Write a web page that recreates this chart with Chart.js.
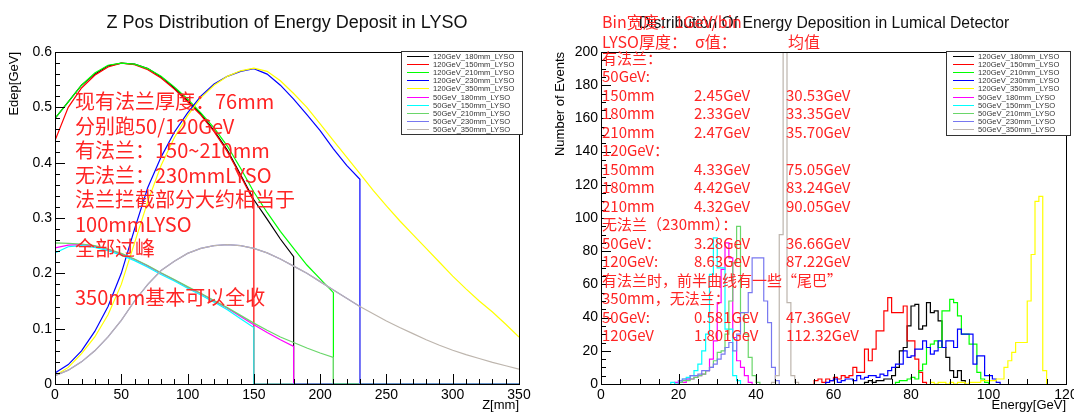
<!DOCTYPE html>
<html><head><meta charset="utf-8">
<script src="https://cdn.jsdelivr.net/npm/chart.js@4.4.1/dist/chart.umd.min.js"></script>
<style>
html,body{margin:0;padding:0;background:#fff;width:1074px;height:412px;overflow:hidden;position:relative;font-family:"Liberation Sans",Arial,sans-serif}
canvas{position:absolute;top:0}
#c1{left:0}
#c2{left:540px}
.title{position:absolute;white-space:nowrap;color:#111;transform:translateX(-50%);line-height:1}
.note{position:absolute;color:#ff2424;font-family:"Noto Sans CJK SC","Noto Sans",sans-serif;white-space:nowrap}
.note div{height:var(--lh);line-height:var(--lh)}
.note span{display:inline-block}
</style></head><body>
<canvas id="c1" width="540" height="412"></canvas>
<canvas id="c2" width="534" height="412"></canvas>
<div class="title" style="left:287px;top:13px;font-size:18px">Z Pos Distribution of Energy Deposit in LYSO</div>
<div class="title" style="left:824px;top:15px;font-size:15.7px">Distribution Of Energy Deposition in Lumical Detector</div>

<div class="note" style="left:75px;top:89px;font-size:20px;--lh:24.5px">
<div>现有法兰厚度：76mm</div>
<div>分别跑50/120GeV</div>
<div>有法兰：150~210mm</div>
<div>无法兰：230mmLYSO</div>
<div>法兰拦截部分大约相当于</div>
<div>100mmLYSO</div>
<div>全部过峰</div>
<div></div>
<div>350mm基本可以全收</div>
</div>

<div class="note" style="left:602px;top:11px;font-size:16px;--lh:20px">
<div>Bin宽度：1GeV/bin</div>
<div><span style="width:93px">LYSO厚度：</span><span style="width:93px">σ值：</span><span>均值</span></div>
</div>
<div class="note" style="left:602px;top:49px;font-size:15px;--lh:18.47px">
<div>有法兰：</div>
<div>50GeV:</div>
<div><span style="width:92px">150mm</span><span style="width:92px">2.45GeV</span><span>30.53GeV</span></div>
<div><span style="width:92px">180mm</span><span style="width:92px">2.33GeV</span><span>33.35GeV</span></div>
<div><span style="width:92px">210mm</span><span style="width:92px">2.47GeV</span><span>35.70GeV</span></div>
<div>120GeV：</div>
<div><span style="width:92px">150mm</span><span style="width:92px">4.33GeV</span><span>75.05GeV</span></div>
<div><span style="width:92px">180mm</span><span style="width:92px">4.42GeV</span><span>83.24GeV</span></div>
<div><span style="width:92px">210mm</span><span style="width:92px">4.32GeV</span><span>90.05GeV</span></div>
<div>无法兰（230mm）：</div>
<div><span style="width:92px">50GeV：</span><span style="width:92px">3.28GeV</span><span>36.66GeV</span></div>
<div><span style="width:92px">120GeV:</span><span style="width:92px">8.63GeV</span><span>87.22GeV</span></div>
<div>有法兰时，前半曲线有一些“尾巴”</div>
<div>350mm，无法兰：</div>
<div><span style="width:92px">50GeV:</span><span style="width:92px">0.581GeV</span><span>47.36GeV</span></div>
<div><span style="width:92px">120GeV</span><span style="width:92px">1.801GeV</span><span>112.32GeV</span></div>
</div>

<script>
// ---------- series names / colours ----------
const seriesNames = ["120GeV_180mm_LYSO","120GeV_150mm_LYSO","120GeV_210mm_LYSO","120GeV_230mm_LYSO","120GeV_350mm_LYSO",
  "50GeV_180mm_LYSO","50GeV_150mm_LYSO","50GeV_210mm_LYSO","50GeV_230mm_LYSO","50GeV_350mm_LYSO"];
const seriesColors = ["#000000","#ff0000","#00ff00","#0000ff","#ffff00","#ff00ff","#00ffff","#6ad66a","#7878f0","#bdb5ad"];

// ---------- left plot: Edep [GeV] vs Z [mm] ----------
const zPos = [0,10,20,30,40,50,60,70,80,90,100,110,120,130,140,150,160,170,180,190,200,210,220,230,240,250,260,270,280,290,300,310,320,330,340,350];
const edep120_180 = [0.48,0.51,0.54,0.56,0.575,0.58,0.578,0.57,0.555,0.535,0.512,0.488,0.458,0.423,0.378,0.333,0.298,0.262,0.23];
const edep120_150 = [0.44,0.50,0.535,0.558,0.573,0.58,0.577,0.568,0.553,0.533,0.51,0.486,0.456,0.42,0.376,0.33];
const edep120_210 = [0.48,0.51,0.54,0.562,0.576,0.58,0.578,0.57,0.556,0.537,0.515,0.49,0.463,0.43,0.39,0.347,0.31,0.276,0.245,0.215,0.19,0.165];
const edep120_230 = [0.02,0.035,0.06,0.095,0.14,0.2,0.28,0.355,0.41,0.455,0.49,0.52,0.542,0.556,0.565,0.57,0.56,0.54,0.515,0.487,0.458,0.425,0.395,0.37];
const edep120_350 = [0.015,0.03,0.055,0.085,0.125,0.18,0.255,0.33,0.395,0.445,0.485,0.517,0.54,0.556,0.566,0.571,0.565,0.548,0.525,0.5,0.47,0.44,0.41,0.38,0.35,0.322,0.295,0.27,0.245,0.22,0.195,0.172,0.15,0.13,0.108,0.085];
const edep50_180 = [0.246,0.251,0.252,0.249,0.243,0.235,0.225,0.213,0.2,0.188,0.175,0.163,0.15,0.137,0.122,0.107,0.093,0.08,0.068];
const edep50_150 = [0.237,0.248,0.25,0.247,0.241,0.233,0.223,0.211,0.198,0.186,0.173,0.161,0.148,0.134,0.118,0.102];
const edep50_210 = [0.255,0.254,0.253,0.25,0.244,0.236,0.226,0.214,0.201,0.189,0.176,0.164,0.151,0.138,0.124,0.11,0.097,0.085,0.075,0.065,0.056,0.048];
const edep50_230 = [0.015,0.025,0.04,0.06,0.085,0.115,0.15,0.18,0.205,0.222,0.236,0.245,0.25,0.252,0.25,0.245,0.237,0.226,0.213,0.2,0.185,0.17,0.155,0.14];
const edep50_350 = [0.015,0.025,0.04,0.06,0.085,0.115,0.15,0.18,0.205,0.222,0.236,0.245,0.25,0.252,0.25,0.245,0.237,0.226,0.213,0.2,0.185,0.17,0.155,0.14,0.127,0.114,0.102,0.091,0.08,0.07,0.061,0.053,0.046,0.039,0.033,0.027];
const leftSeries = [edep120_180,edep120_150,edep120_210,edep120_230,edep120_350,edep50_180,edep50_150,edep50_210,edep50_230,edep50_350];
const zTicks = [0,50,100,150,200,250,300,350];
const edepTicks = [0,0.1,0.2,0.3,0.4,0.5,0.6];

// ---------- right plot: events per 1 GeV bin (first bin lower edge, counts) ----------
const start50_180 = 19;  const cnt50_180 = [1,2,1,3,3,4,5,6,8,15,26,49,69,85,76,28,14,10,5,1];
const start50_150 = 18;  const cnt50_150 = [1,0,2,3,4,5,8,12,20,30,66,88,70,70,33,33,5,2];
const start50_210 = 20;  const cnt50_210 = [1,2,2,3,4,5,6,8,10,14,19,20,30,50,73,95,43,30,16,5,1];
const start50_230 = 20;  const cnt50_230 = [2,3,3,5,5,6,8,8,10,12,15,18,22,25,20,30,43,43,55,76,76,76,50,37,10,2];
const start50_350 = 44;  const cnt50_350 = [1,5,90,260,49,5,1];
const start120_150 = 55; const cnt120_150 = [2,3,1,3,2,4,3,5,4,5,10,7,7,21,14,21,32,32,44,52,43,43,43,47,26,26,15,7,1];
const start120_180 = 68; const cnt120_180 = [1,2,1,2,2,3,3,5,10,20,22,35,47,48,33,35,49,43,44,38,22,16,8,4,8,2];
const start120_210 = 76; const cnt120_210 = [1,2,2,3,4,3,8,12,22,24,26,22,44,44,51,49,41,30,30,24,24,7,3,1];
const start120_230 = 58; const cnt120_230 = [1,2,3,1,2,3,3,2,5,3,4,5,5,4,6,5,8,10,12,12,20,16,17,21,21,26,22,18,20,26,22,26,26,22,33,30,30,30,12,17,17,5,5,3,1];
const start120_350 = 85; const cnt120_350 = [1,0,1,1,0,1,0,1,1,0,1,1,1,2,2,2,2,3,3,10,14,19,25,25,25,50,78,110,113,8];
const histStarts = [start120_180,start120_150,start120_210,start120_230,start120_350,start50_180,start50_150,start50_210,start50_230,start50_350];
const histCounts = [cnt120_180,cnt120_150,cnt120_210,cnt120_230,cnt120_350,cnt50_180,cnt50_150,cnt50_210,cnt50_230,cnt50_350];
const energyTicks = [0,20,40,60,80,100,120];
const eventTicks = [0,20,40,60,80,100,120,140,160,180,200];

// ---------- helpers building library data ----------
function curvePoints(vals){
  const pts = [{x:0,y:0}];
  vals.forEach((v,i)=>pts.push({x:zPos[i],y:v}));
  const last = zPos[vals.length-1];
  if (last < 350) { pts.push({x:last,y:0}); pts.push({x:350,y:0}); }
  return pts;
}
function histPoints(start, counts){
  const pts = [{x:start,y:0}];
  counts.forEach((c,i)=>pts.push({x:start+i,y:c}));
  pts.push({x:start+counts.length,y:0});
  return pts;
}

const rootFrame = {
  id:'rootFrame',
  afterDraw(chart, args, o){
    const {ctx, chartArea:a, scales:{x,y}} = chart;
    ctx.save();
    ctx.strokeStyle = '#000'; ctx.lineWidth = 1;
    ctx.strokeRect(Math.round(a.left)+0.5, Math.round(a.top)+0.5, Math.round(a.right-a.left), Math.round(a.bottom-a.top));
    ctx.beginPath();
    const xs = Math.round((x.max-x.min)/o.xMinor);
    for (let k=0;k<=xs;k++){
      const v = x.min + k*o.xMinor;
      const px = Math.round(x.getPixelForValue(v))+0.5;
      const major = Math.abs(v/o.xMajor-Math.round(v/o.xMajor))<1e-6;
      ctx.moveTo(px, a.bottom); ctx.lineTo(px, a.bottom-(major?10:5));
    }
    const ys = Math.round((y.max-y.min)/o.yMinor);
    for (let k=0;k<=ys;k++){
      const v = y.min + k*o.yMinor;
      const py = Math.round(y.getPixelForValue(v))+0.5;
      const major = Math.abs(v/o.yMajor-Math.round(v/o.yMajor))<1e-6;
      ctx.moveTo(a.left, py); ctx.lineTo(a.left+(major?10:5), py);
    }
    ctx.stroke();
    ctx.restore();
  }
};
const rootLegend = {
  id:'rootLegend',
  afterDraw(chart, args, o){
    const {ctx} = chart;
    ctx.save();
    ctx.fillStyle = '#fff'; ctx.fillRect(o.x, o.y, o.w, o.h);
    ctx.strokeStyle = '#333'; ctx.lineWidth = 1;
    ctx.strokeRect(o.x+0.5, o.y+0.5, o.w, o.h);
    ctx.font = '7.6px "Liberation Sans", Arial, sans-serif';
    ctx.textBaseline = 'middle'; ctx.textAlign = 'left';
    chart.data.datasets.forEach((ds,i)=>{
      const yy = Math.round(o.first + i*o.step)+0.5;
      ctx.strokeStyle = ds.borderColor; ctx.lineWidth = 1;
      ctx.beginPath(); ctx.moveTo(o.l0, yy); ctx.lineTo(o.l1, yy); ctx.stroke();
      ctx.fillStyle = '#333'; ctx.fillText(ds.label, o.tx, yy);
    });
    ctx.restore();
  }
};

function axisOpts(min, max, ticks, fmt, title, titleOpts){
  return {
    type:'linear', min, max,
    afterBuildTicks: s => { s.ticks = ticks.map(v=>({value:v})); },
    ticks:{ autoSkip:false, maxRotation:0, color:'#000', font:{family:'"Liberation Sans", Arial, sans-serif', size:14}, callback: fmt },
    grid:{ display:false, drawTicks:false },
    border:{ display:false },
    title:Object.assign({ display:true, text:title, color:'#000', font:{family:'"Liberation Sans", Arial, sans-serif', size:13} }, titleOpts)
  };
}

Chart.defaults.animation = false;

// left chart
new Chart(document.getElementById('c1'), {
  type:'line',
  data:{ datasets: leftSeries.map((s,i)=>({ label:seriesNames[i], data:curvePoints(s), borderColor:seriesColors[i], borderWidth:1.2, pointRadius:0, tension:0, fill:false, order:10-i })) },
  options:{
    responsive:false, devicePixelRatio:1, animation:false,
    layout:{ padding:{ left:0, right:21, top:52, bottom:0 } },
    plugins:{ legend:{display:false}, tooltip:{enabled:false},
      rootFrame:{ xMinor:10, xMajor:50, yMinor:0.02, yMajor:0.1 },
      rootLegend:{ x:401, y:51, w:121, h:83, l0:407, l1:429, tx:433, first:55.5, step:8.2 } },
    scales:{
      x: Object.assign(axisOpts(0,350,zTicks,v=>String(v),'Z[mm]',{align:'end', padding:{top:0,bottom:-1}}),
        { afterFit:s=>{ s.height = 28; s.paddingLeft = 0; s.paddingRight = 0; } }),
      y: Object.assign(axisOpts(0,0.6,edepTicks,v=>(v===0?'0':v.toFixed(1)),'Edep[GeV]',{align:'end', padding:{top:7,bottom:0}}),
        { afterFit:s=>{ s.width = 55; s.paddingTop = 0; s.paddingBottom = 0; } })
    }
  },
  plugins:[rootFrame, rootLegend]
});

// right chart
new Chart(document.getElementById('c2'), {
  type:'line',
  data:{ datasets: histCounts.map((c,i)=>({ label:seriesNames[i], data:histPoints(histStarts[i], c), borderColor:seriesColors[i], borderWidth:1.2, pointRadius:0, stepped:true, fill:false, order:10-i })) },
  options:{
    responsive:false, devicePixelRatio:1, animation:false,
    layout:{ padding:{ left:0, right:8, top:52, bottom:0 } },
    plugins:{ legend:{display:false}, tooltip:{enabled:false},
      rootFrame:{ xMinor:5, xMajor:20, yMinor:5, yMajor:20 },
      rootLegend:{ x:406, y:51, w:124, h:84, l0:413, l1:434, tx:438, first:55.5, step:8.2 } },
    scales:{
      x: Object.assign(axisOpts(0,120,energyTicks,v=>String(v),'Energy[GeV]',{align:'end', padding:{top:0,bottom:-1}}),
        { afterFit:s=>{ s.height = 28; s.paddingLeft = 0; s.paddingRight = 0; } }),
      y: Object.assign(axisOpts(0,200,eventTicks,v=>String(v),'Number of Events',{align:'end', padding:{top:13,bottom:0}}),
        { afterFit:s=>{ s.width = 61; s.paddingTop = 0; s.paddingBottom = 0; } })
    }
  },
  plugins:[rootFrame, rootLegend]
});
</script>
</body></html>
